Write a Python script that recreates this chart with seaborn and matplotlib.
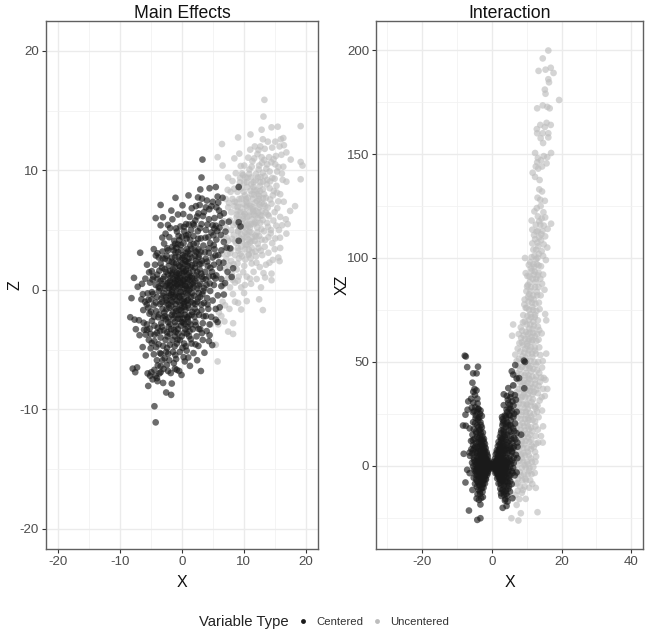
import matplotlib
matplotlib.use("Agg")
import matplotlib.pyplot as plt
from matplotlib.lines import Line2D
from matplotlib.ticker import FixedLocator
import pandas as pd
import seaborn as sns

# ----------------------------------------------------------------------
# values, (x, y) pairs per panel and series
# ----------------------------------------------------------------------
main_centered = [
    (3.35,10.9),(3.2,9.4),(3.0,8.4),(4.5,8.5),(5.5,8.6),(1.1,7.9),(-1,7.7),(-3.4,7.1),(-4.2,6.0),(-.6,6.3),
    (-3.4,5.4),(-1.5,5.9),(-2.6,4.7),(-6.7,3.1),(-4.5,3.4),(-5.6,2.1),(-7.7,1.0),(-7.1,.25),(-6.4,.5),(-8.1,-.7),
    (-6.5,-.8),(-8.3,-2.3),(-7.6,-2.5),(-6.9,-2.55),(-7.4,-3.3),(-6.8,-3.8),(-5.8,-3.75),(-6.3,-4.8),(-5.8,-5.5),(-7.9,-6.6),
    (-7.2,-6.5),(-7.5,-6.9),(-5.5,-7),(-4.4,-6.7),(-5.4,-8.05),(-3.9,-7.65),(-3,-7.8),(-1.6,-7.85),(-2.5,-8.6),(-1.7,-8.8),
    (-4.4,-9.75),(-4.2,-11.1),(-.4,-6.8),(.5,-6),(2.5,-5.9),(3.1,-6.8),(4.4,-4.3),(4.5,-3.8),(5.5,-2.5),(5.8,-2.7),
    (5.5,-1.6),(6.8,-.4),(7,.55),(6.4,.3),(8.3,1.8),(7.4,1.5),(9.2,4.1),(9.2,5.65),(9.5,5.3),(9.2,8.6),
    (7.6,5.7),(6.8,6.4),(6.6,7.7),(5.8,7.8),(5.9,7.3),(6.2,6.2),(5.6,6.9),(4.8,7.0),(3.9,6.9),(2.9,7.1),
    (2.3,7.0),(2.7,6.4),(3.6,6.5),(1.3,6.1),(2.2,5.8),(4.4,5.9),(5.3,6.0),(6.5,5.6),(6.1,5.2),(5.0,5.4),
    (3.2,5.5),(2.0,5.4),(.7,5.5),(-.2,5.3),(.4,4.9),(1.5,5.0),(2.6,4.9),(3.9,5.0),(4.8,4.8),(6.3,4.6),
    (6.8,4.0),(5.6,4.2),(4.3,4.4),(3.1,4.3),(1.9,4.5),(.8,4.3),(-.5,4.5),(-1.2,4.1),(-2.0,4.4),(-1.5,3.6),
    (-.6,3.8),(.3,3.9),(1.4,3.7),(2.4,3.9),(3.5,3.7),(4.6,3.9),(5.3,3.4),(6.4,3.3),(5.9,2.9),(4.4,3.1),
    (3.1,3.2),(2.1,3.3),(1.0,3.2),(-.1,3.3),(-1.0,3.1),(-2.2,3.3),(-3.1,3.2),(-3.7,2.7),(-2.7,2.6),(-1.6,2.7),
    (-.5,2.7),(.5,2.8),(1.6,2.7),(2.7,2.7),(3.9,2.6),(5.0,2.7),(6.0,2.3),(5.2,2.1),(4.2,2.0),(3.2,2.2),
    (2.2,2.2),(1.1,2.3),(.1,2.2),(-.9,2.2),(-2.1,2.0),(-3.4,2.2),(-4.3,2.1),(-3.6,1.6),(-2.5,1.5),(-1.4,1.7),
    (-.4,1.6),(.7,1.7),(1.8,1.6),(2.9,1.7),(3.8,1.5),(4.9,1.5),(5.6,1.2),(6.4,.9),(4.4,1.1),(3.3,1.1),
    (2.4,1.2),(1.3,1.1),(.3,1.2),(-.7,1.1),(-1.8,1.0),(-2.8,1.1),(-3.9,.9),(-4.6,1.1),(-5.1,.6),(-4.2,.4),
    (-3.2,.5),(-2.2,.6),(-1.2,.6),(-.2,.6),(.9,.6),(1.9,.6),(3.0,.5),(4.0,.4),(5.2,.4),(4.6,-.1),
    (3.5,-.1),(2.5,.1),(1.4,.1),(.4,.1),(-.6,.1),(-1.6,.0),(-2.7,.1),(-3.7,-.1),(-4.8,-.2),(-5.5,-.3),
    (-5.9,-1.0),(-4.9,-.8),(-4.0,-.6),(-3.0,-.5),(-2.0,-.5),(-1.0,-.4),(0,-.5),(1.0,-.4),(2.0,-.5),(3.0,-.6),
    (4.1,-.7),(5.0,-.9),(3.6,-1.1),(2.5,-1.0),(1.5,-1.0),(.5,-1.0),(-.5,-1.0),(-1.5,-1.0),(-2.5,-1.1),(-3.5,-1.2),
    (-4.5,-1.3),(-5.4,-1.5),(-6.2,-1.7),(-5.2,-2.0),(-4.1,-1.8),(-3.1,-1.6),(-2.0,-1.5),(-1.0,-1.6),(0,-1.5),(1.1,-1.5),
    (2.1,-1.6),(3.2,-1.7),(4.3,-1.6),(3.9,-2.2),(2.8,-2.1),(1.6,-2.1),(.5,-2.1),(-.5,-2.1),(-1.6,-2.1),(-2.7,-2.2),
    (-3.8,-2.3),(-4.8,-2.6),(-5.6,-2.9),(-4.4,-3.0),(-3.3,-2.8),(-2.2,-2.7),(-1.1,-2.7),(0,-2.7),(1.1,-2.7),(2.2,-2.7),
    (3.4,-2.8),(4.5,-2.9),(3.0,-3.3),(1.8,-3.3),(.6,-3.3),(-.6,-3.3),(-1.7,-3.3),(-2.9,-3.4),(-4.0,-3.6),(-5.0,-3.7),
    (-5.3,-4.2),(-4.4,-4.3),(-3.4,-4.0),(-2.3,-3.9),(-1.1,-3.9),(0,-3.9),(1.2,-3.9),(2.4,-3.9),(3.4,-4.2),(2.7,-4.7),
    (1.6,-4.5),(.4,-4.5),(-.8,-4.5),(-1.9,-4.6),(-3.0,-4.7),(-4.1,-4.8),(-5.0,-4.9),(-4.5,-5.4),(-3.5,-5.3),(-2.5,-5.2),
    (-1.4,-5.2),(-.3,-5.2),(.8,-5.1),(1.9,-5.3),(-.9,-5.8),(-2.0,-5.9),(-3.1,-5.9),(-4.0,-5.9),(-3.4,-6.4),(-2.4,-6.3),
    (-1.1,-6.6),(-.8,-6.7),(-4.9,-6.9),(-4.2,-7.2),(-3.6,-7.0),(-4.7,-7.5),(-4.0,-7.4),(-3.4,-6.9),(-5.1,-7.2),(-2.2,-6.8),
    (-.3,1.0),(.9,.1),(-1.1,1.9),(.2,-.2),(1.2,1.4),(-.8,-.9),(-2.4,-.9),(-1.9,.4),(.6,-1.7),(1.9,.2),
    (-1.3,-2.4),(-.1,-3.0),(1.0,2.0),(2.5,1.5),(-.4,2.0),(-1.7,-.4),(-3.0,.9),(-2.8,-1.9),(.3,-2.4),(1.5,-.6),
    (-.9,.3),(.5,.9),(-.2,-1.3),(-1.4,.9),(2.2,-1.2),(-3.2,-3.1),(-2.1,-3.1),(-.9,-3.0),(.4,-3.6),(1.3,3.0),
    (.2,2.9),(-1.3,3.3),(2.7,3.4),(-2.6,-4.2),(-1.5,-4.2),(-.3,-4.2),(.9,-2.3),(-1.0,-1.2),(.1,.4),(1.0,-1.3),
]

# second pass over the dense middle of the dark cloud
main_centered_core = [
    (.23,.84),(-.47,1.36),(.71,-.27),(-1.32,.18),(1.58,1.12),(-.86,-1.77),(2.14,.73),(-2.23,1.27),(.38,-1.18),(-1.67,-1.34),
    (1.12,2.61),(-.22,2.46),(.83,3.42),(-1.06,2.73),(2.31,2.42),(3.14,1.36),(-2.94,-.27),(-3.41,.73),(-.63,-2.43),(.94,-3.12),
    (-1.84,-2.86),(1.73,-1.86),(2.63,-.74),(-2.57,-2.47),(-.13,3.74),(1.37,4.18),(.57,2.13),(-1.47,1.43),(-.74,.47),(.17,1.76),
    (1.02,-.83),(-.32,-.64),(-1.93,.73),(2.77,.36),(3.46,.92),(-2.14,-1.23),(-3.16,-1.04),(-1.24,-3.37),(.27,-2.74),(1.43,-2.91),
    (-.56,-3.66),(-2.37,-3.56),(2.06,-2.26),(3.17,-1.23),(.64,.31),(-.18,-.18),(-1.03,.76),(.41,1.53),(1.76,.47),(-1.58,2.34),
    (-.83,1.42),(.12,2.67),(.96,1.27),(2.12,1.86),(3.27,2.43),(-2.43,2.84),(-3.18,1.86),(-.39,4.16),(1.06,4.62),(2.36,3.16),
    (-1.76,-.88),(-2.63,.34),(-.08,-2.06),(1.27,-3.46),(-3.64,-2.07),(-4.17,-1.07),(-3.72,.24),(-1.14,-4.73),(.13,-4.86),(-2.16,-5.36),
    (3.74,3.14),(4.12,2.36),(1.84,5.53),(2.97,5.16),(.26,6.34),(4.63,1.84),(5.43,.94),(4.17,-1.23),(2.74,-3.27),(-4.94,-1.83),
    (-4.62,-.36),(-3.86,-3.17),(-2.74,-5.74),(-1.27,-6.14),(-3.73,-4.56),(-5.36,-.84),(-5.17,-3.26),(-5.64,-1.23),(-6.14,-2.76),(-4.71,.86),
    (-3.92,3.06),(-4.83,1.56),(-2.84,3.87),(-.93,5.14),(3.43,6.17),(5.17,3.73),(5.74,4.93),(4.46,6.74),(3.27,7.63),(5.02,7.36),
    (.46,-1.42),(-.71,.96),(1.34,.36),(-1.43,-.62),(.07,1.38),(.86,-.93),(-.34,.24),(1.67,-.27),(-1.12,-2.14),(.54,2.46),
    (-.58,3.16),(.73,4.56),(1.93,3.83),(2.83,2.93),(-2.08,.14),(-2.46,-1.63),(-1.87,1.57),(-3.02,-2.34),(.31,-5.64),(1.47,-4.14),
]

# third pass, gaps still open in the dark cloud
main_centered_fill = [
    (-.17,.53),(.53,.37),(-.92,1.24),(.34,-.77),(-1.53,-.17),(1.23,.83),(-.43,-1.67),(.74,2.37),(-1.27,2.23),(1.64,2.06),
    (-2.06,-.26),(2.43,.96),(-.27,-2.43),(1.17,-2.17),(-1.43,-1.87),(-2.73,1.73),(2.87,2.14),(-3.26,-.74),(3.33,-.37),(.83,-3.67),
    (-.97,-3.53),(-2.14,-2.33),(2.26,-2.97),(-3.07,2.64),(.06,4.43),(1.56,3.43),(-1.07,3.83),(2.66,4.27),(-2.33,3.47),(3.83,4.36),
    (.37,5.27),(-.76,4.87),(1.16,5.46),(2.47,6.13),(4.17,5.46),(5.13,4.57),(-1.87,5.17),(-3.13,4.37),(-3.97,1.27),(-4.46,-2.26),
    (-3.47,-3.46),(-2.36,-4.87),(-1.03,-5.47),(.67,-4.73),(-3.33,-5.37),(-4.37,-3.76),(-4.83,-4.46),(-2.93,-6.63),(-1.76,-6.97),(-3.86,-6.33),
    (-5.63,-3.36),(-6.27,-.37),(-5.86,.93),(-4.17,2.87),(-5.26,1.46),(-6.07,-3.34),(1.06,-5.67),(2.23,-4.57),(3.26,-3.63),(4.03,-3.46),
    (3.87,.87),(4.53,.53),(5.07,1.13),(4.36,3.47),(5.46,2.87),(6.17,1.83),(5.83,-.47),(4.77,-2.27),(3.53,-2.23),(2.47,-1.86),
    (.13,-.97),(-.53,.83),(.97,.87),(-1.76,.27),(1.47,1.87),(-2.53,-.63),(2.73,-.26),(-.23,1.93),(-1.13,-.57),(.47,-2.87),
    (-1.93,-3.67),(-.67,-4.17),(.77,3.07),(2.17,2.83),(-.87,3.53),(-2.13,2.43),(-3.53,.14),(3.63,.13),(1.87,-1.13),(-.07,-1.73),
    (-1.63,1.27),(1.13,-.06),(-.47,-.53),(.27,.73),(-1.17,.53),(.63,1.57),(-.83,-.23),(1.63,.96),(-2.27,.53),(.97,-2.43),
    (6.03,6.63),(5.27,5.13),(4.07,7.47),(5.53,5.37),(7.07,4.87),(6.73,2.27),(7.27,3.53),(2.63,7.73),(1.63,6.83),(.13,7.07),
    (-1.67,6.63),(-2.23,5.43),(-3.03,6.07),(7.83,3.47),(8.07,1.07),(6.13,-1.47),(4.93,-4.63),(3.67,-5.27),(1.33,-6.37),(-.03,-7.13),
]

main_uncentered = [
    (13.35,15.9),(13.2,14.5),(12.9,13.4),(14.5,13.6),(15.5,13.65),(19.2,13.7),(9.1,12.75),(11.1,13),(6.5,12.2),(5.8,11.1),
    (6.6,10.4),(8.5,11),(9.3,11.4),(19.2,10.7),(19.5,10.4),(19.2,9.25),(17.6,10.9),(16.9,9.05),(18.3,7),(17.5,6.6),
    (16.8,5.9),(17.1,5.5),(16.2,5.4),(16.9,4.7),(15.9,3.5),(15.6,2.7),(15.8,2.4),(14.5,1.35),(14.5,.8),(12.5,-.8),
    (13.1,-1.7),(9.6,-1.65),(10.5,-.95),(7.7,-1.6),(8.3,-2.8),(7.5,-3.5),(8.3,-3.7),(5.5,-4.6),(5.8,-6),(6.9,-2.65),
    (4.7,-2.9),(6.0,-1.9),(6.4,-2.2),(5.9,-2.9),(6.6,-1.0),(7.0,-1.3),(8.6,-1.0),(9.1,-1.1),(7.8,.2),(8.6,.6),
    (9.6,.2),(10.2,.4),(11.2,.5),(12.1,.9),(12.8,.2),(13.2,1.4),(11.6,1.5),(10.5,1.1),(9.2,1.1),(8.1,1.3),
    (12.6,1.9),(13.6,2.1),(14.7,2.5),(11.3,2.2),(10.1,2.0),(9.0,2.2),(8.0,2.4),(7.2,2.6),(8.6,2.9),(9.7,2.8),
    (10.8,2.9),(12.0,2.8),(13.0,2.9),(14.0,3.1),(15.0,3.4),(14.6,3.9),(13.4,3.6),(12.4,3.5),(11.3,3.5),(10.2,3.4),
    (9.1,3.5),(8.0,3.4),(7.0,3.5),(7.5,4.1),(8.6,4.1),(9.7,4.1),(10.8,4.2),(11.8,4.1),(12.9,4.2),(14.0,4.4),
    (15.1,4.3),(15.7,5.0),(14.4,5.0),(13.3,4.9),(12.2,4.8),(11.2,4.8),(10.2,4.8),(9.1,4.9),(8.0,5.0),(7.1,5.2),
    (7.8,5.8),(8.7,5.6),(9.7,5.5),(10.7,5.5),(11.7,5.5),(12.7,5.6),(13.8,5.6),(14.8,5.8),(15.9,6.1),(15.0,6.5),
    (13.9,6.3),(12.9,6.2),(11.9,6.2),(10.9,6.2),(9.9,6.2),(8.9,6.3),(8.0,6.5),(7.5,6.9),(8.5,7.0),(9.5,6.9),
    (10.5,6.9),(11.5,6.9),(12.5,6.9),(13.5,7.0),(14.5,7.2),(15.6,7.4),(15.9,8.0),(14.7,7.9),(13.6,7.7),(12.5,7.6),
    (11.5,7.6),(10.4,7.6),(9.3,7.6),(8.2,7.6),(7.1,7.6),(7.9,8.2),(9.0,8.2),(10.0,8.2),(11.1,8.3),(12.1,8.3),
    (13.1,8.4),(14.2,8.5),(15.3,8.7),(16.3,9.2),(15.0,9.3),(13.8,9.2),(12.7,9.0),(11.6,9.0),(10.5,9.0),(9.4,9.0),
    (8.2,9.1),(7.5,9.4),(9.9,9.6),(10.9,9.7),(12.0,9.7),(13.1,9.8),(14.2,9.9),(15.4,9.9),(16.4,10.3),(15.1,10.5),
    (13.8,10.5),(12.5,10.4),(11.3,10.3),(10.1,10.4),(11.7,11.0),(12.9,11.1),(14.1,11.1),(15.2,11.2),(16.1,11.3),(16.9,11.5),
    (15.8,12.0),(16.5,12.1),(14.6,11.9),(13.4,11.8),(12.4,11.7),(13.9,12.4),(12.7,12.0),(15.1,12.4),(16.0,12.6),(16.4,12.7),
    (11.8,12.0),(13.1,12.6),(10.8,3.0),(11.9,3.2),(10.6,3.8),(11.4,4.4),(10.4,4.4),(9.3,4.4),(12.2,5.2),(11.0,5.2),
    (10.1,5.3),(9.1,5.4),(12.3,6.0),(11.3,5.9),(10.3,5.8),(9.3,5.9),(8.4,4.6),(13.0,6.6),(12.0,6.6),(11.0,6.5),
    (10.0,6.5),(9.0,6.6),(12.9,7.3),(11.9,7.3),(10.9,7.2),(9.9,7.2),(8.9,7.3),(13.3,8.0),(12.3,8.0),(11.3,8.0),
    (10.2,7.9),(9.6,8.5),(10.6,8.6),(11.6,8.6),(12.6,8.7),(13.4,9.5),(12.3,9.4),(11.2,9.4),(9.1,4.9),(8.9,1.7),
    (11.6,6.3),(12.5,4.5),(10.7,7.7),(9.5,3.0),(7.4,3.0),(6.8,4.3),(6.5,3.0),(6.9,1.8),(7.5,1.0),(6.7,.4),
]

# second pass over the dense middle of the light cloud
main_uncentered_core = [
    (10.36,5.13),(11.47,6.74),(9.83,4.26),(12.14,7.43),(10.83,3.37),(11.76,5.64),(9.24,2.63),(12.63,8.26),(13.27,7.18),(10.17,6.36),
    (11.23,8.84),(9.67,7.64),(8.76,3.93),(12.87,5.07),(13.56,6.48),(10.62,9.37),(11.94,9.16),(12.43,10.07),(9.37,5.18),(8.34,5.43),
    (13.16,9.07),(14.27,7.56),(14.07,6.17),(12.27,3.86),(11.13,2.64),(9.93,1.47),(10.46,7.37),(11.87,4.53),(10.93,4.87),(9.47,6.47),
    (8.56,7.37),(8.17,4.26),(7.83,3.07),(12.73,9.43),(13.73,8.83),(11.42,10.76),(12.96,10.63),(14.63,9.36),(14.86,8.27),(13.93,5.27),
    (12.06,2.27),(10.27,2.53),(9.07,.76),(8.23,.83),(11.07,7.03),(10.07,8.97),(9.74,9.73),(8.47,8.46),(7.64,7.26),(13.47,4.17),
    (10.56,6.07),(11.36,3.13),(12.34,6.47),(9.16,3.27),(13.07,5.83),(14.37,4.73),(15.26,5.37),(11.67,7.96),(12.56,7.12),(10.77,5.36),
    (9.56,4.67),(8.87,6.06),(11.16,5.47),(12.03,4.43),(10.33,3.76),(9.27,8.67),(13.67,10.14),(14.47,10.67),(15.37,8.14),(15.43,6.83),
    (7.27,4.37),(7.64,2.06),(6.83,5.73),(7.43,8.36),(8.73,9.76),(9.53,10.36),(10.73,11.06),(11.06,11.73),(12.23,11.36),(13.33,10.87),
    (14.83,10.93),(15.63,10.27),(16.17,9.73),(16.47,7.37),(15.87,4.36),(14.16,2.27),(13.46,1.03),(11.03,.93),(10.07,-.27),(8.27,-.36),
    (11.27,4.06),(10.57,4.63),(12.07,5.63),(11.57,6.57),(10.47,7.03),(9.87,5.93),(11.73,8.37),(12.47,7.83),(10.27,9.43),(9.03,6.93),
    (12.67,6.23),(11.03,3.97),(9.63,3.63),(13.13,7.67),(12.77,3.27),(8.37,2.13),(13.87,6.87),(14.27,9.07),(9.43,9.36),(10.93,10.07),
]

inter_centered = [
    (-7.8,53),(-7.5,52.6),(-7.1,47.5),(-4,47.7),(-5.4,44.5),(-4.4,44.5),(-5.6,40),(-5,37),(-6,32.3),(-6.8,31),
    (-4.2,32.3),(-4.1,30),(-5.8,28),(-7,27),(-7.6,24.6),(-5.4,25.8),(-3.4,25),(-8.3,19.4),(-7.5,19.3),(-6.4,18),
    (-8.1,5.8),(-6.4,6.4),(-6.3,4.8),(-7.1,-1.9),(-6.4,-3.5),(-4.9,-2.4),(-7.6,-8),(-5.6,-11.6),(-2.7,-12.5),(-4.4,-15.7),
    (-3.3,-18.6),(-6.6,-21.5),(-4.2,-26),(-3.3,-25.2),(9.5,50),(9.2,50.6),(5.7,45.5),(6.1,43.9),(7.1,42),(7.8,42.2),
    (6.7,48.5),(9.3,37.3),(6.1,38.7),(4.7,37.4),(5.5,34.7),(3.4,34.4),(6.6,34),(6.9,31.8),(3.4,29.2),(4.7,30.2),
    (7.1,26),(2.9,23.5),(8.4,15),(5.5,19.3),(7.1,15.7),(7.3,11.2),(6.9,5.3),(7.3,3.7),(7.1,-3.2),(5.7,-8.8),
    (5.2,-12.4),(5.9,-15.6),(4.5,-17.2),(4.2,-19.3),(3.1,-20.2),(2.6,-13.2),(5.3,33),(5.9,31),(6.2,29),(4.2,27),
    (5.3,27.5),(6.4,25),(4.0,24),(4.9,24.5),(3.4,21.5),(4.4,21),(5.4,22),(3.0,19.5),(4.0,18.5),(4.9,17),
    (6.1,18),(2.7,17),(3.5,15.5),(4.4,15),(5.4,14.5),(6.3,13.5),(2.3,14),(3.1,13),(4.0,12.5),(4.9,12),
    (5.9,11),(1.9,11.5),(2.6,11),(3.4,10.5),(4.3,10),(5.2,9.5),(6.2,8.5),(1.7,9.5),(2.4,9),(3.2,8.5),
    (4.0,8),(4.8,7.5),(5.7,7),(1.4,7.5),(2.0,7),(2.8,6.5),(3.6,6),(4.4,6),(5.3,5),(6.3,4),
    (1.1,5.5),(1.8,5),(2.5,4.5),(3.3,4),(4.1,4),(4.9,3.5),(5.8,2.5),(.9,3.5),(1.5,3),(2.2,2.5),
    (3.0,2.5),(3.8,2),(4.6,1.5),(5.5,.8),(.6,2),(1.2,1.5),(1.9,1),(2.7,.5),(3.5,.5),(4.3,.2),
    (5.2,-.5),(6.1,-1),(.3,.5),(.9,0),(1.6,-.5),(2.4,-1),(3.2,-1),(4.0,-1.5),(4.8,-2),(5.7,-2.5),
    (.5,-1.5),(1.2,-2),(2.0,-2.5),(2.8,-2.8),(3.6,-3),(4.4,-3.5),(5.3,-4.5),(1.0,-3.5),(1.7,-4),(2.5,-4.5),
    (3.3,-5),(4.1,-5.5),(4.9,-6),(1.5,-6),(2.3,-6.5),(3.1,-7),(3.9,-7.5),(4.6,-8),(1.9,-8.5),(2.6,-9),
    (3.4,-9.5),(4.2,-10),(2.4,-11),(3.2,-11.5),(4.0,-12),(4.7,-11),(2.7,-14.5),(3.5,-14),(4.4,-14.5),(3.9,-16),
    (-2.9,24),(-3.9,22),(-4.7,23),(-3.3,21),(-4.2,19.5),(-5.4,21),(-2.9,18.5),(-3.7,17),(-4.6,16.5),(-5.6,15),
    (-2.6,16),(-3.4,14.5),(-4.2,14),(-5.0,13),(-6.0,12),(-2.3,13),(-3.0,12),(-3.8,11.5),(-4.6,11),(-5.4,10),
    (-2.0,10.5),(-2.7,10),(-3.4,9.5),(-4.2,9),(-5.0,8.5),(-5.9,8),(-1.8,8.5),(-2.4,8),(-3.1,7.5),(-3.9,7),
    (-4.7,6.5),(-5.6,6),(-1.5,6.5),(-2.1,6),(-2.8,5.5),(-3.6,5),(-4.4,4.5),(-5.2,4),(-1.2,4.5),(-1.8,4),
    (-2.5,3.5),(-3.3,3),(-4.1,2.5),(-4.9,2),(-5.7,1.5),(-.9,2.5),(-1.5,2),(-2.2,1.5),(-3.0,1),(-3.8,.8),
    (-4.6,.5),(-5.4,-.2),(-.5,.8),(-1.2,.3),(-1.9,0),(-2.7,-.5),(-3.5,-.8),(-4.3,-1),(-5.1,-1.5),(-.2,-.5),
    (-.8,-1),(-1.5,-1.5),(-2.3,-1.8),(-3.1,-2),(-3.9,-2.5),(-4.6,-3),(-1.1,-2.5),(-1.8,-3),(-2.6,-3.5),(-3.4,-3.8),
    (-4.2,-4.5),(-1.4,-4.5),(-2.1,-5),(-2.9,-5.5),(-3.7,-6),(-4.5,-6.5),(-1.7,-6.5),(-2.4,-7),(-3.2,-7.5),(-4.0,-8),
    (-2.0,-8.5),(-2.7,-9),(-3.5,-9.5),(-4.3,-10),(-2.4,-10.5),(-3.1,-11),(-3.9,-11.5),(-3.4,-13.5),(-2.6,-15),(-3.1,-15.5),
    (.1,0),(.4,-.5),(-.3,.3),(.6,.7),(-.7,-.3),(1.0,1),(-1.0,1),(1.3,-.8),(-1.3,-.8),(1.7,.3),
    (-1.7,.8),(2.1,-.2),(-2.1,-.6),(2.5,1.5),(-2.5,.8),(2.9,-1.7),(-2.9,-1.2),(3.4,1.2),(-3.3,-.2),(3.9,-.5),
    (-3.7,1.8),(1.4,2.5),(-1.4,3),(2.0,3.5),(-2.0,2.7),(2.6,3),(-2.7,2.2),(1.8,-1.5),(-1.9,-2),(2.4,-3.5),
    (-2.4,-2.7),(3.0,-3.8),(-3.0,-3),(3.6,-2),(-3.6,-1.7),(2.1,-5.5),(-2.2,-4.2),(2.8,-5.8),(-2.8,-4.5),(3.4,3),
]

# second pass over the two dark arms of the V
inter_centered_core = [
    (-3.17,12.7),(-2.43,6.4),(-3.86,8.3),(-2.74,2.1),(-3.43,-1.3),(-2.16,-3.7),(-3.74,-4.8),(-2.87,-7.6),(-1.64,-2.3),(-1.23,1.9),
    (-4.13,3.6),(-3.27,5.3),(-2.13,4.7),(-4.46,-2.2),(-3.06,-6.4),(-2.47,-8.4),(-3.64,-9.1),(-1.86,-6.2),(-2.93,9.4),(-3.56,11.3),
    (-4.23,6.2),(-2.27,11.6),(-2.74,14.2),(-3.23,15.8),(-3.87,18.6),(-4.43,15.7),(-3.13,19.6),(-3.64,23.4),(-4.27,25.8),(-4.76,28.2),
    (-5.13,26.4),(-3.94,27.3),(-4.83,20.4),(-5.23,17.6),(-5.47,12.4),(-4.76,9.3),(-5.43,7.4),(-5.14,2.8),(-4.67,-4.4),(-4.27,-7.3),
    (-4.86,-8.6),(-5.23,-5.7),(-3.46,-12.4),(-2.83,-10.4),(-4.14,-13.6),(-3.74,-16.4),(-1.14,-3.4),(-1.73,3.2),(-1.37,5.4),(-.83,1.6),
    (-.64,-1.4),(-.37,.9),(-1.06,-.6),(-1.53,-.3),(-2.04,1.2),(-2.34,-.2),(-2.63,4.6),(-3.16,3.7),(-3.63,2.3),(-4.07,-.4),
    (-2.94,-3.2),(-3.47,-5.1),(-1.96,7.3),(-2.53,7.1),(-3.37,6.8),(-2.17,9.3),(-3.04,10.4),(-2.64,12.6),(-3.76,13.4),(-3.34,17.4),
    (-2.36,-6.1),(-1.96,-4.6),(-1.47,-3.3),(-2.77,-2.4),(-3.27,-3.4),(-3.84,-1.3),(-4.34,1.4),(-2.43,.4),(-2.87,.9),(-1.83,-1.1),
    (2.74,13.4),(3.46,9.3),(2.16,3.7),(3.87,7.1),(2.43,-1.7),(3.73,-4.3),(2.93,-7.4),(1.84,-2.7),(1.37,2.2),(4.27,2.7),
    (3.13,5.6),(2.27,8.1),(4.53,-2.7),(3.06,-6.2),(2.46,-8.2),(3.64,-8.7),(1.86,-5.3),(3.04,11.7),(3.67,13.8),(4.47,11.3),
    (2.57,15.7),(3.34,17.6),(3.96,20.3),(4.63,19.4),(3.17,20.7),(3.67,24.2),(4.36,25.8),(4.86,27.4),(5.23,24.3),(4.57,31.8),
    (5.17,29.4),(5.76,26.3),(4.27,33.6),(5.07,19.6),(5.36,16.4),(5.63,12.7),(4.76,8.7),(5.43,8.2),(5.16,2.4),(4.83,-4.7),
    (4.27,-7.3),(4.94,-9.7),(5.26,-7.4),(3.47,-12.6),(2.83,-11.7),(4.13,-13.4),(3.74,-16.7),(1.14,-2.6),(1.73,4.2),(1.37,6.4),
    (.83,1.7),(.64,-1.1),(.37,.7),(1.06,-.4),(1.53,.6),(2.04,1.7),(2.34,-.4),(2.63,5.4),(3.16,3.2),(3.63,1.3),
    (4.07,-.7),(2.94,-3.4),(3.47,-5.3),(1.96,7.6),(2.53,7.7),(3.37,7.4),(2.17,10.3),(3.04,9.7),(2.64,12.6),(3.76,14.7),
    (3.34,16.6),(2.36,-6.7),(1.96,-4.2),(1.47,-3.7),(2.77,-2.1),(3.27,-3.3),(3.84,-1.2),(4.34,1.6),(2.43,.7),(2.87,1.4),
    (4.13,23.1),(3.03,22.4),(-4.07,22.7),(-3.27,26.6),(-4.43,36.3),(-4.87,34.1),(-5.36,35.6),(-3.87,27.4),(-4.64,24.3),(-5.34,30.4),
    (5.84,6.6),(5.96,-3.4),(6.27,1.4),(6.54,-4.6),(6.34,9.4),(6.73,12.7),(6.43,16.7),(6.64,20.4),(6.16,23.4),(7.36,9.2),
]

inter_uncentered = [
    (16.2,199.8),(14.6,196),(13.4,190),(15.4,190.6),(16.9,191.5),(17.7,189),(16.2,186),(16.4,184.5),(15.2,181),(15.4,179),
    (19.3,176),(13,172),(14.6,173.4),(15.9,172.7),(16.6,172),(13.9,164),(15.7,165),(16.9,164),(15.2,163),(12.9,162),
    (13,160),(14.6,160),(16.2,160),(14,157.6),(16.2,158),(14.7,155.3),(12.4,150.5),(17,150.5),(14.9,149),(15.9,148.5),
    (13.2,148),(13.0,146),(14.1,147),(15.7,145.5),(12.6,144),(13.3,143),(14.4,144),(11.7,141),(12.4,139),(13.7,137.5),
    (13.6,133),(14.4,132),(13.1,129),(13.9,128),(15.2,127.5),(12.9,124),(14.0,125),(14.8,122),(13.2,120),(14.3,119),
    (15.3,119.5),(11.4,118),(13.9,116),(12.6,116),(13.2,113),(14.5,113),(17.0,116.5),(16.0,114),(12.1,111),(11.6,107),
    (12.4,109),(13.6,110),(14.1,108.5),(14.9,106.5),(15.9,105),(11.9,104),(12.7,104),(13.5,102),(12.2,101),(13.1,100),
    (14.7,101),(9.5,100),(15.5,99),(11.0,98),(11.9,97),(12.9,97),(14.1,96),(11.2,95),(12.3,93.5),(13.4,93),
    (10.8,91),(11.7,90),(12.7,90),(13.9,90),(14.7,92),(10.3,87),(11.3,86),(12.4,86),(13.4,86),(9.9,84),
    (10.7,82.5),(11.9,82),(13.0,82),(14.0,82),(9.4,80),(10.5,79),(11.5,78.5),(12.5,78),(13.5,78.5),(9.7,76),
    (10.7,75),(11.8,75),(12.8,74.5),(15.3,73),(9.0,72.5),(10.2,72),(11.3,71.5),(12.3,71.5),(13.2,70),(15.6,70),
    (8.9,69),(10.0,68),(11.0,68),(12.1,67.5),(13.2,67),(6.1,68),(8.7,65),(9.8,64.5),(10.8,64),(11.9,64),
    (13.0,63.5),(5.8,62.6),(8.4,61.5),(9.5,61),(10.6,61),(11.7,60.5),(12.8,60),(7.9,59),(9.0,58),(10.2,57.5),
    (11.2,57),(12.3,57),(13.6,57),(8.2,55),(9.3,54.5),(10.4,54),(11.5,54),(12.6,54),(6.7,53.5),(15.6,54),
    (7.8,51.5),(8.9,51),(10.0,50.5),(11.1,50.5),(12.2,50),(13.3,50),(7.5,48),(8.6,47.5),(9.7,47),(10.8,47),
    (11.9,46.5),(13.0,46),(7.2,44.5),(8.3,44),(9.4,43.5),(10.5,43.5),(11.6,43),(12.7,43),(14.1,42.5),(15.4,41.4),
    (8.0,40.5),(9.1,40),(10.2,40),(11.3,39.5),(12.4,39.5),(13.4,38.5),(15.9,37),(14.7,37),(7.7,37),(8.8,36.5),
    (9.9,36.5),(11.0,36),(12.1,35.5),(13.2,35),(7.4,33.5),(8.5,33),(9.6,33),(10.7,32.5),(11.8,32),(14.3,33),
    (7.9,30),(9.0,29.5),(10.1,29.5),(11.2,29),(12.3,28.5),(13.1,29),(7.6,26.5),(8.7,26),(9.8,26),(10.9,25.5),
    (12.0,25),(13.0,26),(7.3,23),(8.4,22.5),(9.5,22.5),(10.6,22),(11.7,22),(6.8,20),(8.1,19.5),(9.2,19),
    (10.3,19),(11.3,18.5),(12.5,19),(14.7,19),(7.8,16),(8.9,15.5),(10.0,15.5),(11.0,15),(7.5,12.5),(8.6,12),
    (9.7,12),(10.8,11.5),(13.3,11.2),(14.6,11.2),(7.9,9),(9.0,8.5),(10.1,8.5),(11.2,8),(12.0,9),(8.4,5.5),
    (9.5,5),(10.6,5),(12.7,4.5),(7.9,2.5),(9.0,2),(10.1,2),(11.5,2),(12.5,2),(8.6,-1),(9.7,-1),
    (10.8,-1),(11.9,-.5),(8.0,-3),(9.2,-4),(10.3,-4),(11.4,-4),(7.6,-6),(8.7,-7),(9.8,-7),(11.0,-7),
    (6.9,-8.5),(8.1,-10),(9.4,-10),(10.7,-10.5),(12.6,-10.6),(7.4,-12),(8.6,-13),(6.8,-14),(9.7,-15.9),(7.9,-16),
    (7.1,-18.8),(8.3,-22.8),(13.1,-22.3),(5.6,-25.2),(7.6,-26.3),(10.4,60),(11.4,62),(10.0,76),(12.0,80),(11.1,84),
    (12.0,92),(9.6,39),(10.6,42),(9.8,30),(10.4,23),(9.4,17),(11.1,73),(10.7,66),(9.7,52),(11.0,48),
]

# second pass over the thick lower part of the light band
inter_uncentered_core = [
    (11.4,93.7),(12.6,88.4),(10.1,86.3),(13.2,91.6),(11.2,80.6),(12.9,83.7),(10.4,81.3),(9.3,77.6),(13.7,75.4),(11.6,76.4),
    (12.4,72.6),(10.6,70.3),(9.4,69.4),(11.7,65.7),(13.6,65.3),(8.3,66.6),(10.3,63.3),(12.3,62.4),(9.1,62.7),(7.7,63.4),
    (8.6,59.4),(11.4,59.6),(13.4,60.7),(14.3,63.7),(12.4,55.4),(10.7,55.6),(9.6,56.3),(7.4,56.4),(8.8,52.7),(11.6,52.4),
    (13.9,53.3),(14.6,50.4),(12.7,48.7),(10.4,48.4),(9.2,49.3),(7.1,50.4),(8.1,46.4),(11.3,45.4),(13.6,44.7),(14.4,47.3),
    (12.4,41.4),(10.8,41.6),(9.3,41.3),(7.4,41.7),(6.7,43.6),(8.6,38.4),(11.7,37.7),(13.8,40.4),(14.9,42.3),(12.8,36.7),
    (10.4,34.6),(9.1,34.7),(7.1,35.4),(6.3,38.7),(8.2,31.7),(11.4,30.7),(13.7,31.4),(15.2,33.6),(12.6,27.6),(10.3,27.4),
    (9.3,27.7),(7.4,28.3),(6.7,30.4),(8.4,24.4),(11.3,23.7),(13.4,23.4),(14.4,26.6),(12.4,21.3),(10.1,20.7),(8.8,20.6),
    (7.1,18.3),(6.7,24.6),(8.3,17.3),(11.6,16.7),(13.2,17.4),(14.1,14.3),(12.6,14.4),(10.4,13.7),(9.2,13.6),(7.6,14.4),
    (8.4,10.3),(11.4,9.7),(12.7,10.7),(10.3,6.7),(9.1,6.3),(7.6,6.4),(8.6,3.7),(11.2,3.6),(12.4,6.7),(10.4,.7),
    (9.3,.4),(7.4,.6),(6.8,-2.3),(8.4,-4.7),(10.7,-2.4),(12.3,-3.4),(9.6,-6.3),(7.3,-8.4),(11.6,-8.7),(8.9,-11.6),
    (11.4,100.4),(12.7,99.4),(14.3,103.3),(10.6,96.7),(13.4,96.4),(9.7,92.7),(12.2,95.6),(10.9,88.4),(14.4,87.6),(15.1,84.7),
    (10.2,91.3),(13.3,105.7),(14.2,111.4),(13.1,107.4),(15.3,110.4),(12.8,112.7),(11.6,113.6),(13.6,117.7),(14.9,115.6),(12.2,122.4),
    (9.8,44.6),(10.9,37.4),(9.9,24.4),(11.7,34.4),(8.9,33.7),(10.6,17.6),(9.3,10.4),(11.3,12.6),(10.1,58.7),(11.9,69.4),
]

xticks_main = [-20, -10, 0, 10, 20]
xminor_main = [-15, -5, 5, 15]
yticks_main = [-20, -10, 0, 10, 20]
yminor_main = [-15, -5, 5, 15]
xticks_inter = [-20, 0, 20, 40]
xminor_inter = [-30, -10, 10, 30]
yticks_inter = [0, 50, 100, 150, 200]
yminor_inter = [-25, 25, 75, 125, 175]

TEXT_GREY = "#4d4d4d"
DARK = "#1a1a1a"
LIGHT = "#bdbdbd"
palette = {"Centered": DARK, "Uncentered": LIGHT}


def make_df(uncentered, centered, ycol):
    # uncentered goes first so the dark points sit on top
    a = pd.DataFrame(uncentered, columns=["X", ycol])
    a["Type"] = "Uncentered"
    b = pd.DataFrame(centered, columns=["X", ycol])
    b["Type"] = "Centered"
    return pd.concat([a, b], ignore_index=True)


def style_panel(ax, title, ylabel, xlim, ylim, xt, xm, yt, ym):
    ax.set_xlim(*xlim)
    ax.set_ylim(*ylim)
    ax.set_xticks(xt)
    ax.set_yticks(yt)
    ax.xaxis.set_minor_locator(FixedLocator(xm))
    ax.yaxis.set_minor_locator(FixedLocator(ym))
    ax.grid(True, which="major", color="#ebebeb", linewidth=1.0)
    ax.grid(True, which="minor", color="#f2f2f2", linewidth=0.6)
    ax.set_axisbelow(True)
    ax.tick_params(which="minor", length=0)
    ax.tick_params(which="major", length=3, width=0.8, color="#333333",
                   labelcolor=TEXT_GREY, labelsize=9.6, pad=2, bottom=True, left=True)
    for s in ax.spines.values():
        s.set_color("#606060")
        s.set_linewidth(1.0)
    ax.set_title(title, fontsize=12.7, color="#111111", pad=2.5)
    ax.set_xlabel("X", fontsize=11.5, color="#111111", labelpad=5)
    ax.set_ylabel(ylabel, fontsize=11.5, color="#111111", labelpad=-2)


sns.set_style("white")
plt.rcParams["font.family"] = ["Liberation Sans", "DejaVu Sans"]
plt.rcParams["axes.unicode_minus"] = False

fig = plt.figure(figsize=(6.48, 6.34), dpi=100)
W, H = 648.0, 634.0
ax1 = fig.add_axes([46 / W, 1 - 549 / H, 272 / W, 528 / H])
ax2 = fig.add_axes([376 / W, 1 - 549 / H, 267 / W, 528 / H])

sns.scatterplot(data=make_df(main_uncentered + main_uncentered_core,
                             main_centered + main_centered_core + main_centered_fill, "Z"),
                x="X", y="Z", hue="Type", palette=palette, alpha=0.64, s=23, linewidth=0, legend=False, ax=ax1)
sns.scatterplot(data=make_df(inter_uncentered + inter_uncentered_core, inter_centered + inter_centered_core, "XZ"),
                x="X", y="XZ", hue="Type", palette=palette, alpha=0.64, s=23, linewidth=0, legend=False, ax=ax2)

style_panel(ax1, "Main Effects", "Z", (-21.9, 22.0), (-21.7, 22.5),
            xticks_main, xminor_main, yticks_main, yminor_main)
style_panel(ax2, "Interaction", "XZ", (-33.3, 43.4), (-40, 214),
            xticks_inter, xminor_inter, yticks_inter, yminor_inter)

# legend along the bottom
handles = [
    Line2D([], [], marker="o", linestyle="", color=DARK, markersize=3.5, markeredgewidth=0),
    Line2D([], [], marker="o", linestyle="", color=LIGHT, markersize=3.5, markeredgewidth=0),
]
fig.legend(handles, ["Centered", "Uncentered"], loc="center left", ncol=2, frameon=False,
           bbox_to_anchor=(296 / W, 1 - 622 / H), fontsize=8.2, handlelength=1.2, handletextpad=0.55,
           columnspacing=0.65, labelcolor="#333333", borderpad=0, borderaxespad=0)
fig.text(199 / W, 1 - 622 / H, "Variable Type", fontsize=10.7, va="center", ha="left", color="#222222")

fig.savefig("out.png", dpi=100)
